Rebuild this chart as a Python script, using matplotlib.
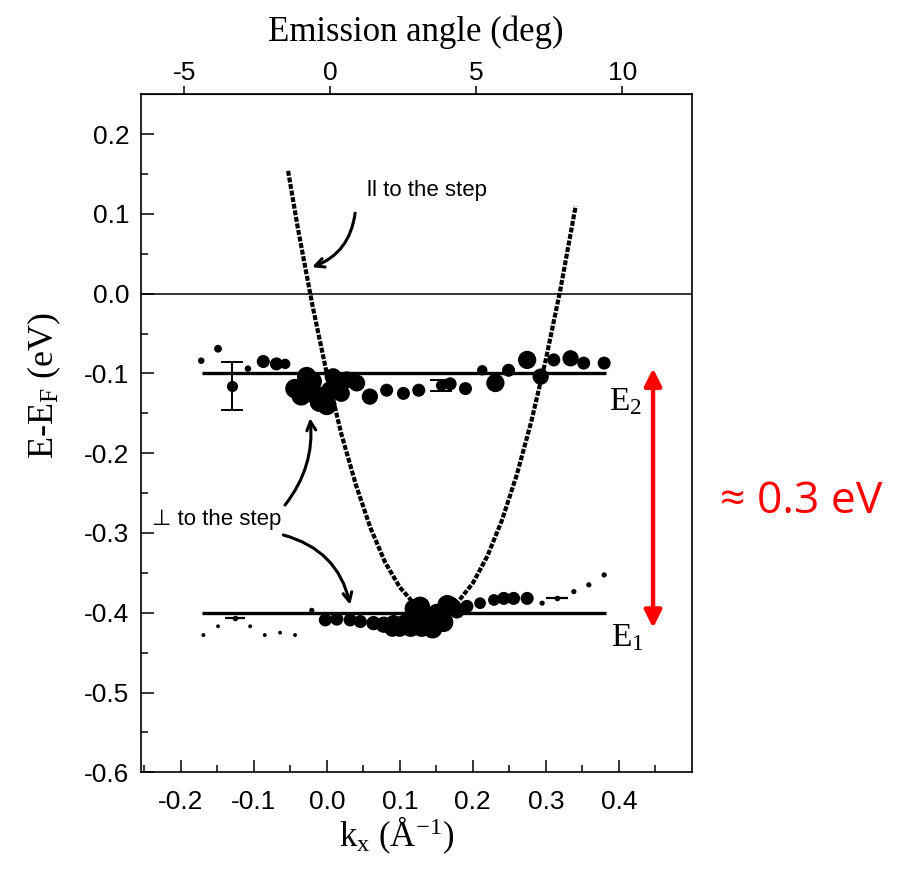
import matplotlib
matplotlib.use("Agg")
import matplotlib.pyplot as plt
import numpy as np

plt.rcParams['axes.unicode_minus'] = False
plt.rcParams['mathtext.fontset'] = 'custom'
plt.rcParams['mathtext.rm'] = 'Liberation Serif'
plt.rcParams['mathtext.it'] = 'Liberation Serif'

# ---------------- data ----------------
# upper state E2: kx (1/A), E-EF (eV), relative intensity
e2_k = [-0.172, -0.149, -0.108, -0.087, -0.069, -0.057,
        -0.0435, -0.035, -0.0275, -0.020, -0.0184, -0.010, -0.0047, 0.0, 0.005,
        0.0087, 0.0137, 0.020, 0.0275, 0.041,
        0.059, 0.082, 0.105, 0.126, 0.169, 0.190, 0.213, 0.231, 0.249,
        0.2745, 0.293, 0.311, 0.334, 0.352, 0.380]
e2_E = [-0.084, -0.069, -0.094, -0.085, -0.088, -0.088,
        -0.119, -0.128, -0.104, -0.110, -0.125, -0.136, -0.129, -0.140, -0.122,
        -0.104, -0.117, -0.125, -0.108, -0.112,
        -0.129, -0.121, -0.125, -0.121, -0.113, -0.119, -0.096, -0.112, -0.096,
        -0.083, -0.104, -0.083, -0.081, -0.087, -0.087]
e2_w = [1.0, 1.2, 1.0, 2.0, 2.0, 1.6,
        3.0, 3.0, 3.0, 3.0, 3.0, 3.0, 3.0, 3.0, 3.0,
        2.6, 3.0, 2.6, 2.6, 2.6,
        2.5, 2.0, 2.0, 2.0, 2.0, 2.0, 1.6, 2.8, 2.0,
        2.8, 2.5, 2.0, 2.5, 2.0, 2.0]

# E2 points with vertical error bars
e2_err_k = [-0.130, 0.156]
e2_err_E = [-0.116, -0.115]
e2_err_dE = [0.030, 0.007]

# lower state E1
e1_k = [-0.169, -0.149, -0.105, -0.085, -0.064, -0.0435, -0.0206,
        -0.002, 0.0137, 0.032, 0.046, 0.064, 0.078, 0.090, 0.0915, 0.100, 0.105,
        0.115, 0.119, 0.120, 0.128, 0.130, 0.1395, 0.145, 0.151, 0.160, 0.165,
        0.170, 0.178, 0.192, 0.210, 0.229, 0.2425,
        0.256, 0.2745, 0.295, 0.3385, 0.359, 0.380]
e1_E = [-0.428, -0.417, -0.417, -0.428, -0.425, -0.428, -0.397,
        -0.409, -0.408, -0.409, -0.411, -0.413, -0.415, -0.420, -0.413, -0.420, -0.413,
        -0.418, -0.405, -0.395, -0.392, -0.418, -0.411, -0.420, -0.401, -0.412, -0.390,
        -0.390, -0.397, -0.392, -0.388, -0.384, -0.382,
        -0.382, -0.382, -0.388, -0.3735, -0.365, -0.3526]
e1_w = [0.6, 0.6, 0.6, 0.6, 0.6, 0.6, 0.8,
        2.0, 2.0, 2.0, 2.0, 2.2, 2.5, 2.5, 2.5, 2.5, 2.5,
        3.0, 3.0, 3.0, 3.0, 3.0, 3.0, 3.0, 3.0, 3.0, 3.0,
        2.5, 2.5, 2.0, 1.8, 1.8, 2.0,
        2.0, 2.0, 0.8, 0.8, 0.8, 0.8]

# E1 points with horizontal error bars
e1_err_k = [-0.126, 0.316]
e1_err_E = [-0.407, -0.382]
e1_err_dk = [0.014, 0.015]

# free-electron parabola ("ll to the step")
para_k = [-0.053, -0.04, -0.02, 0.0, 0.02, 0.04, 0.06, 0.08, 0.10, 0.12, 0.14,
          0.16, 0.18, 0.20, 0.22, 0.24, 0.26, 0.28, 0.30, 0.32, 0.341]
para_E = [0.154, 0.084, -0.013, -0.100, -0.176, -0.240, -0.294, -0.337, -0.368,
          -0.389, -0.399, -0.398, -0.386, -0.363, -0.329, -0.284, -0.228,
          -0.161, -0.083, 0.005, 0.110]

# level lines
level_E = [-0.1, -0.4]
level_k = [-0.171, 0.382]

x_ticks = [-0.2, -0.1, 0.0, 0.1, 0.2, 0.3, 0.4]
y_ticks = [0.2, 0.1, 0.0, -0.1, -0.2, -0.3, -0.4, -0.5, -0.6]
angle_ticks = [-5, 0, 5, 10]

# ---------------- figure ----------------
fig = plt.figure(figsize=(9.04, 8.74), dpi=100)
ax = fig.add_axes([0.1556, 0.1164, 0.6096, 0.7757])
ax.set_xlim(-0.255, 0.50)
ax.set_ylim(-0.6, 0.25)

SANS = ['Liberation Sans', 'DejaVu Sans']
SERIF = 'Liberation Serif'

# zero line
ax.axhline(0.0, color='black', lw=1.1, zorder=1)

# level lines
for e in level_E:
    ax.plot(level_k, [e, e], color='black', lw=2.4, zorder=2, solid_capstyle='butt')

# parabola
ax.plot(para_k, para_E, color='black', lw=3.0, linestyle=(0, (1.2, 0.4)), zorder=3)

# scatter points
def sz(w):
    return 22.0 * np.asarray(w) ** 2

ax.scatter(e2_k, e2_E, s=sz(e2_w), color='black', edgecolors='none', zorder=4)
ax.scatter(e1_k, e1_E, s=sz(e1_w), color='black', edgecolors='none', zorder=4)

ax.errorbar(e2_err_k, e2_err_E, yerr=e2_err_dE, fmt='o', ms=7, color='black',
            ecolor='black', elinewidth=1.4, capsize=8, capthick=1.4, zorder=4)
ax.errorbar(e1_err_k, e1_err_E, xerr=e1_err_dk, fmt='o', ms=3, color='black',
            ecolor='black', elinewidth=1.6, capsize=0, zorder=4)

# ticks
ax.set_xticks(x_ticks)
ax.set_xticklabels([f"{v:.1f}" for v in x_ticks])
ax.set_yticks(y_ticks)
ax.set_yticklabels([f"{v:.1f}" for v in y_ticks])
ax.set_xticks(np.arange(-0.25, 0.5, 0.05), minor=True)
ax.set_yticks(np.arange(-0.6, 0.25, 0.05), minor=True)
ax.tick_params(which='major', direction='in', length=9, width=1.1,
               labelsize=19, top=False, right=False, pad=8)
ax.tick_params(axis='x', which='major', pad=13)
ax.tick_params(which='minor', direction='in', length=5, width=1.1,
               top=False, right=False)
for lab in ax.get_xticklabels() + ax.get_yticklabels():
    lab.set_family(SANS)
for sp in ax.spines.values():
    sp.set_linewidth(1.2)

# top axis: emission angle
sec = ax.secondary_xaxis('top', functions=(lambda k: (k - 0.005) / 0.04,
                                           lambda a: 0.005 + 0.04 * a))
sec.set_xticks(angle_ticks)
sec.set_xticklabels([str(a) for a in angle_ticks])
sec.tick_params(direction='out', length=6, width=1.1, labelsize=19, pad=1)
sec.xaxis.set_minor_locator(matplotlib.ticker.NullLocator())
for lab in sec.get_xticklabels():
    lab.set_family(SANS)
sec.set_xlabel('Emission angle (deg)', family=SERIF, fontsize=25, labelpad=14)

# axis labels
ax.set_xlabel(r'k$_\mathregular{x}$ (Å$^\mathregular{-1}$)', family=SERIF, fontsize=25)
ax.xaxis.set_label_coords(0.465, -0.063)
ax.set_ylabel(r'E-E$_\mathregular{F}$ (eV)', family=SERIF, fontsize=26)
ax.yaxis.set_label_coords(-0.141, 0.571)

# level labels
ax.text(0.386, -0.136, r'E$_\mathregular{2}$', family=SERIF, fontsize=24,
        ha='left', va='center')
ax.text(0.390, -0.432, r'E$_\mathregular{1}$', family=SERIF, fontsize=24,
        ha='left', va='center')

# annotations
ax.text(0.0553, 0.1296, 'll to the step', family=SANS, fontsize=16,
        ha='left', va='center')
ax.text(-0.2396, -0.2825, '⊥ to the step', family=SANS, fontsize=16,
        ha='left', va='center')

arw = dict(arrowstyle='->', color='black', lw=2.2, mutation_scale=16,
           shrinkA=0, shrinkB=0)
ax.annotate('', xy=(-0.0202, 0.0333), xytext=(0.0388, 0.101),
            arrowprops=dict(arw, connectionstyle='arc3,rad=-0.3'))
ax.annotate('', xy=(-0.0229, -0.156), xytext=(-0.0572, -0.265),
            arrowprops=dict(arw, connectionstyle='arc3,rad=0.2'))
ax.annotate('', xy=(0.032, -0.390), xytext=(-0.0596, -0.3025),
            arrowprops=dict(arw, connectionstyle='arc3,rad=-0.3'))

# red double arrow
ax.annotate('', xy=(0.447, -0.0936), xytext=(0.447, -0.419),
            arrowprops=dict(arrowstyle='<|-|>', color='#ff0000', lw=3.2,
                            mutation_scale=26, shrinkA=0, shrinkB=0))
fig.text(0.7965, 0.4256, '≈ 0.3 eV', color='#ff0000', family=['Open Sans', 'DejaVu Sans'],
         fontsize=32, ha='left', va='center')

fig.savefig('out.png', dpi=100)
